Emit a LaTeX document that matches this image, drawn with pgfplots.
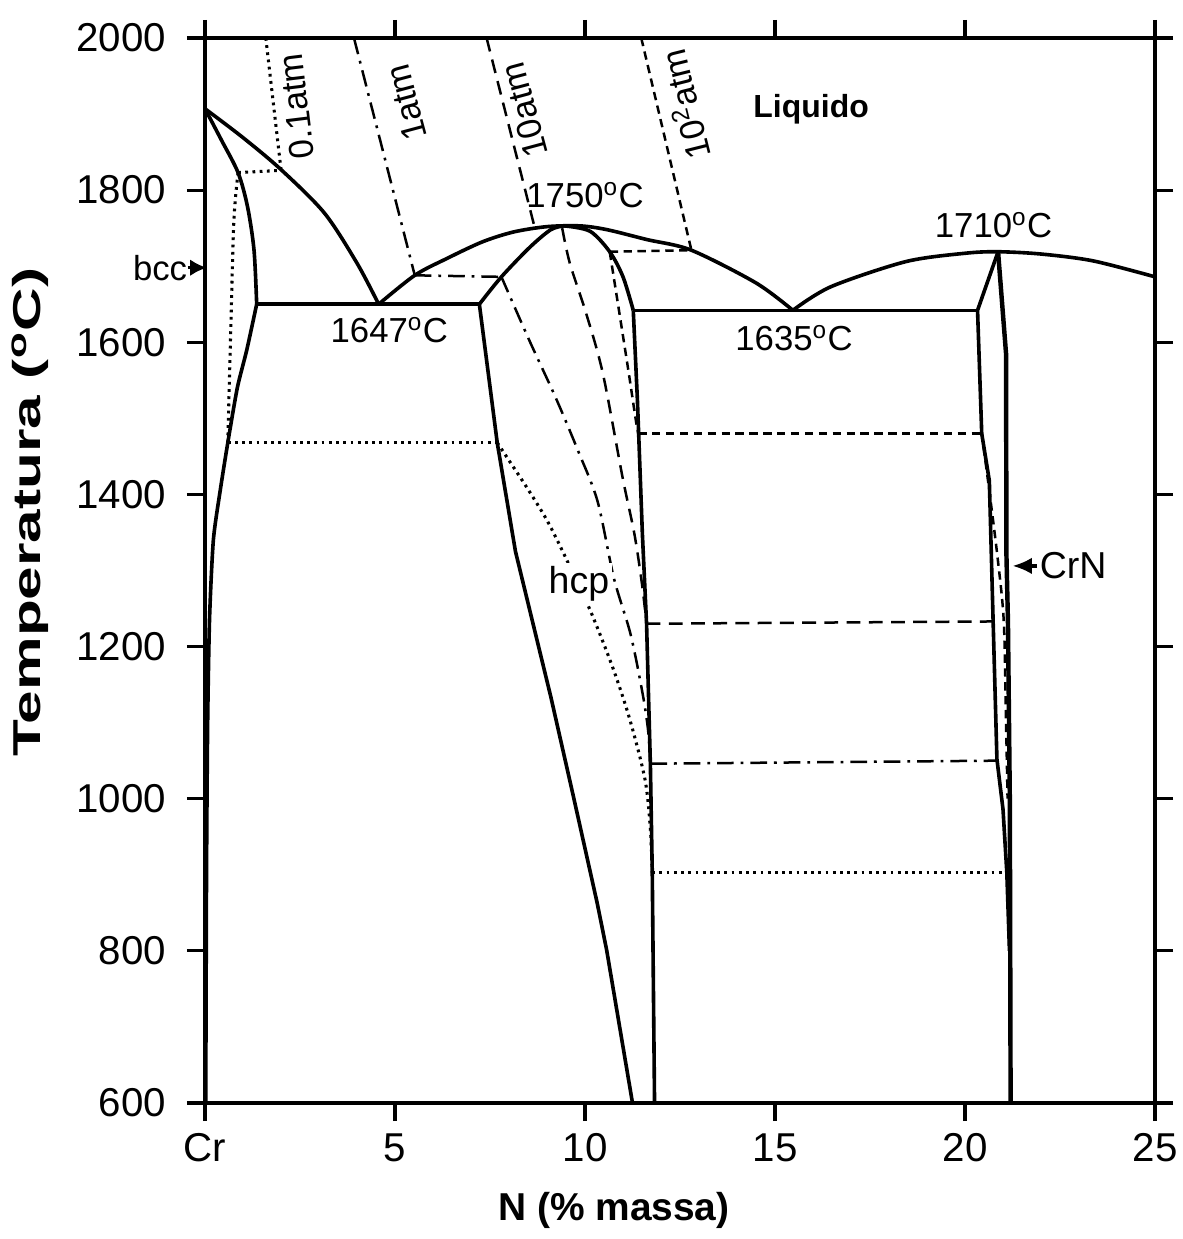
\documentclass[border=0pt]{standalone}
\usepackage{fontspec}
\setmainfont{Liberation Sans}
\usepackage{pgfplots}
\pgfplotsset{compat=1.18}
\usetikzlibrary{arrows.meta}
\newcommand{\lab}{\fontsize{12.5}{13}\selectfont}
\pgfplotsset{
 ph/.style={black, line width=1.3pt, mark=none},
 dot/.style={black, line width=1.1pt, mark=none, dash pattern=on 1pt off 1.6pt},
 dd/.style={black, line width=0.9pt, mark=none, dash pattern=on 6pt off 2.5pt on 1pt off 2.5pt},
 da/.style={black, line width=0.9pt, mark=none, dash pattern=on 5pt off 3pt},
 fd/.style={black, line width=0.9pt, mark=none, dash pattern=on 3pt off 2pt},
}
\begin{document}
\begin{tikzpicture}[x=1pt,y=1pt]
\path[use as bounding box] (-73.8,-48.96) rectangle (351.72,397.08);
\begin{axis}[
 at={(0,0)}, anchor=south west,
 scale only axis, width=342pt, height=383.4pt,
 xmin=0, xmax=25, ymin=600, ymax=2000,
 clip=false,
 axis line style={line width=1.3pt},
 tick align=outside, tick pos=both, ticklabel pos=left,
 major tick length=6.5pt,
 every tick/.style={black, line width=1.1pt},
 xtick={0,5,10,15,20,25}, xticklabels={Cr,5,10,15,20,25},
 ytick={600,800,1000,1200,1400,1600,1800,2000},
 yticklabels={600,800,1000,1200,1400,1600,1800,2000},
 tick label style={font=\fontsize{14.5}{14.5}\selectfont},
 yticklabel style={xshift=-4pt},
 xticklabel style={yshift=-1pt},
 xlabel={N (\% massa)}, ylabel={\scalebox{1.55}[1]{Temperatura (\textsuperscript{o}C)}},
 label style={font=\fontsize{14}{14}\selectfont\bfseries},
 xlabel style={at={(rel axis cs:0.4305,-0.1005)}, anchor=center},
 ylabel style={at={(rel axis cs:-0.184,0.555)}, anchor=center},
]
% bcc solidus
\addplot[ph, smooth, tension=0.5] coordinates {(0,1907)(0.43,1866)(0.87,1823)(1.12,1778)(1.29,1721)(1.36,1650)};
% left liquidus
\addplot[ph, smooth, tension=0.5] coordinates {(0,1907)(1,1869)(2.0,1827)(3.14,1770)(4.0,1704)(4.57,1650)};
% bcc solvus
\addplot[ph, smooth, tension=0.4] coordinates {(1.36,1650)(1.1,1590)(0.85,1540)(0.6,1468)(0.4,1405)(0.22,1340)(0.12,1237)(0.07,1100)(0.04,900)(0.02,600)};
% eutectic 1
\addplot[ph] coordinates {(1.36,1650)(7.22,1650)};
% dome liquidus
\addplot[ph, smooth, tension=0.5] coordinates {(4.57,1650)(5.52,1688)(6.36,1710)(7.3,1732)(8.12,1745)(9.0,1752)(9.87,1753)(10.58,1748)(11.63,1735)(12.8,1721)(14.5,1678)(15.47,1642)};
% hcp boundaries
\addplot[ph, smooth, tension=0.5] coordinates {(7.22,1650)(7.8,1686)(8.55,1725)(9.1,1748)(9.45,1753)};
\addplot[ph, smooth, tension=0.5] coordinates {(9.45,1753)(10.13,1746)(10.65,1719)(11.0,1686)(11.27,1642)};
\addplot[ph] coordinates {(7.22,1650)(7.69,1468)(8.17,1325)(9.1,1134)(9.69,1004)(10.32,863)(10.57,801)(11.25,600)};
\addplot[ph] coordinates {(11.27,1642)(11.38,1523)(11.51,1348)(11.62,1230)(11.72,1046)(11.77,903)(11.83,600)};
% eutectic 2
\addplot[ph] coordinates {(11.27,1642)(20.33,1642)};
% right liquidus
\addplot[ph, smooth, tension=0.5] coordinates {(15.47,1642)(16.47,1673)(18.44,1706)(20.0,1717)(20.87,1719)(22.0,1716)(23.37,1707)(25,1686)};
% CrN
\addplot[ph] coordinates {(20.87,1719)(20.33,1642)(20.44,1480)(20.64,1418)(20.74,1233)(20.84,1052)(21.0,986)(21.1,903)(21.17,800)};
\addplot[ph, line width=1.6pt] coordinates {(20.87,1719)(21.08,1585)(21.09,1321)(21.13,1233)(21.18,996)(21.19,800)(21.2,600)};
% 0.1 atm
\addplot[dot] coordinates {(1.6,2000)(2.0,1827)};
\addplot[dot] coordinates {(0.87,1823)(2.0,1826)};
\addplot[dot, smooth] coordinates {(0.87,1823)(0.76,1760)(0.68,1620)(0.63,1527)(0.6,1468)};
\addplot[dot] coordinates {(0.6,1468)(7.69,1468)};
\addplot[dot, smooth] coordinates {(7.69,1468)(8.47,1409)(9.01,1365)(9.5,1316)(10.15,1246)(10.74,1171)(11.18,1104)(11.58,1025)(11.72,960)(11.77,903)};
\addplot[dot] coordinates {(11.77,903)(21.1,903)};
% 1 atm
\addplot[dd] coordinates {(3.92,2000)(5.52,1688)};
\addplot[dd] coordinates {(5.52,1688)(7.8,1686)};
\addplot[dd, smooth] coordinates {(7.8,1686)(8.53,1603)(9.23,1527)(9.82,1457)(10.33,1391)(10.76,1290)(11.2,1216)(11.52,1137)(11.66,1090)(11.72,1046)};
\addplot[dd] coordinates {(11.72,1046)(20.84,1050)};
% 10 atm
\addplot[da] coordinates {(7.41,2000)(8.68,1750)};
\addplot[da, smooth] coordinates {(9.4,1750)(9.6,1704)(10.03,1638)(10.47,1559)(10.99,1422)(11.3,1348)(11.5,1282)(11.62,1230)};
\addplot[da] coordinates {(11.62,1230)(20.74,1233)};
% 10^2 atm
\addplot[fd] coordinates {(11.48,2000)(12.8,1721)};
\addplot[fd] coordinates {(10.65,1719)(12.8,1721)};
\addplot[fd, smooth] coordinates {(10.65,1719)(10.9,1640)(11.15,1560)(11.33,1500)(11.4,1480)};
\addplot[fd] coordinates {(11.4,1480)(20.44,1480)};
\addplot[fd, smooth] coordinates {(20.44,1480)(20.6,1420)(20.85,1320)(21.02,1233)(21.08,1100)(21.12,1000)};
% labels
\node[font=\lab, rotate=97, inner sep=0pt] at (axis cs:2.4,1910) {0.1atm};
\node[font=\lab, rotate=105, inner sep=0pt] at (axis cs:5.3,1915) {1atm};
\node[font=\lab, rotate=105, inner sep=0pt] at (axis cs:8.4,1905) {10atm};
\node[font=\lab, rotate=104, inner sep=0pt] at (axis cs:12.6,1912) {10\textsuperscript{2}atm};
\node[font=\fontsize{11.5}{12}\selectfont\bfseries] at (axis cs:15.95,1906) {Liquido};
\node[font=\lab] at (axis cs:10.0,1794) {1750\textsuperscript{o}C};
\node[font=\lab] at (axis cs:20.75,1754) {1710\textsuperscript{o}C};
\node[font=\lab] at (axis cs:4.85,1616) {1647\textsuperscript{o}C};
\node[font=\lab] at (axis cs:15.5,1605) {1635\textsuperscript{o}C};
\node[font=\fontsize{13.5}{14}\selectfont, fill=white, inner sep=1pt] at (axis cs:9.84,1283) {hcp};
\node[font=\fontsize{13.5}{14}\selectfont, anchor=west, inner sep=1pt] at (axis cs:21.88,1306) {CrN};
\draw[-{Latex[length=7pt,width=6pt]}, line width=1.2pt] (axis cs:21.9,1306) -- (axis cs:21.25,1306);
\node[font=\lab, anchor=east, inner sep=0.5pt] at (axis cs:-0.42,1698) {bcc};
\draw[-{Latex[length=6pt,width=6pt]}, line width=1.2pt] (axis cs:-0.45,1698) -- (axis cs:0.05,1698);
\end{axis}
\end{tikzpicture}
\end{document}
